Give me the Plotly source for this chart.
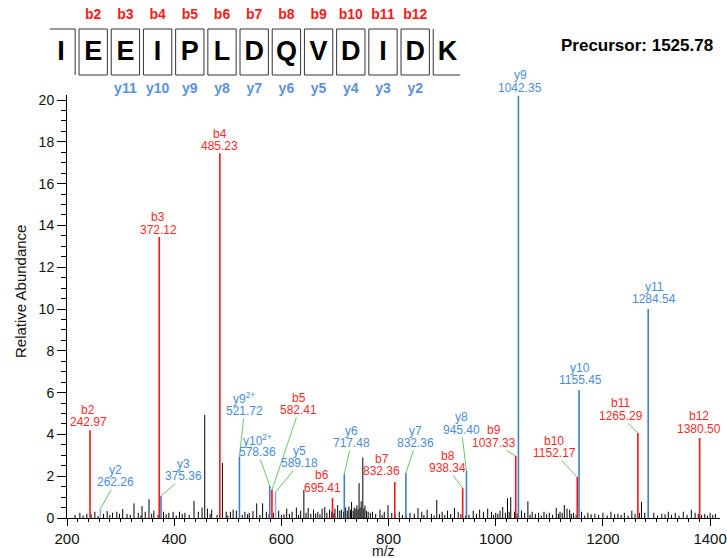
import plotly.graph_objects as go

FONT = "Liberation Sans, Arial, sans-serif"

# ---------------- data ----------------
residues = list("IEEIPLDQVDIDK")
b_seq_labels = ["b2", "b3", "b4", "b5", "b6", "b7", "b8", "b9", "b10", "b11", "b12"]
b_seq_index = [1, 2, 3, 4, 5, 6, 7, 8, 9, 10, 11]
y_seq_labels = ["y11", "y10", "y9", "y8", "y7", "y6", "y5", "y4", "y3", "y2"]
y_seq_index = [2, 3, 4, 5, 6, 7, 8, 9, 10, 11]
precursor = "Precursor: 1525.78"

ion_names = ["b2", "y2", "b3", "y3", "b4", "y9<sup>2+</sup>", "y10<sup>2+</sup>", "b5", "y5",
             "b6", "y6", "b7", "y7", "b8", "y8", "b9", "y9", "b10", "y10", "b11", "y11", "b12"]
ion_mz = [242.97, 262.26, 372.12, 375.36, 485.23, 521.72, 578.36, 582.41, 589.18,
          695.41, 717.48, 811.6, 832.36, 938.34, 945.40, 1037.33, 1042.35, 1152.17,
          1155.45, 1265.29, 1284.54, 1380.50]
ion_label = ["242.97", "262.26", "372.12", "375.36", "485.23", "521.72", "578.36", "582.41",
             "589.18", "695.41", "717.48", "832.36", "832.36", "938.34", "945.40", "1037.33",
             "1042.35", "1152.17", "1155.45", "1265.29", "1284.54", "1380.50"]
ion_intensity = [4.2, 0.43, 13.45, 1.05, 17.45, 2.92, 1.53, 1.34, 1.24, 0.96, 2.1, 1.72,
                 2.15, 1.43, 2.25, 2.97, 20.2, 1.96, 6.12, 4.07, 10.0, 3.83]
ion_type = ["b", "y", "b", "y", "b", "y", "y", "b", "y", "b", "y", "b", "y", "b", "y",
            "b", "y", "b", "y", "b", "y", "b"]

noise_mz = [224, 237, 252, 268, 275, 285, 293, 304, 312, 325, 333, 340, 346, 353, 362, 380,
            390, 398, 410, 420, 437, 445, 452, 457, 462, 470, 490, 497, 505, 510, 516, 532,
            540, 547, 554, 565, 572, 595, 610, 620, 628, 636, 642, 650, 660, 668, 676, 681,
            690, 700, 705, 712, 720, 726, 731, 736, 741, 745, 749, 752, 756, 762, 770, 784,
            792, 799, 806, 820, 840, 855, 862, 872, 890, 900, 910, 923, 930, 958, 970, 977,
            985, 992, 1000, 1008, 1013, 1022, 1028, 1035, 1048, 1054, 1060, 1068, 1080, 1090,
            1100, 1113, 1120, 1128, 1133, 1138, 1145, 1160, 1172, 1185, 1200, 1215, 1228,
            1240, 1254, 1272, 1278, 1295, 1310, 1322, 1335, 1350, 1365, 1372, 1390, 1400, 1410]
noise_int = [0.25, 0.2, 0.3, 0.2, 0.33, 0.25, 0.3, 0.43, 0.2, 0.7, 0.25, 0.57, 0.3, 0.9, 0.35, 0.3,
             0.25, 0.3, 0.3, 0.25, 0.82, 0.3, 0.5, 4.93, 0.45, 0.4, 2.63, 0.3, 0.3, 0.4, 0.35, 0.3,
             0.25, 0.33, 0.7, 0.7, 0.3, 0.35, 0.45, 0.3, 0.5, 0.35, 1.34, 0.48, 0.4, 0.3, 0.45, 0.53,
             0.4, 0.45, 0.62, 0.4, 0.5, 0.55, 0.77, 0.5, 0.6, 1.67, 0.8, 2.9, 0.6, 0.3, 0.3, 0.4,
             0.3, 0.62, 0.25, 0.3, 0.25, 0.48, 0.3, 0.4, 0.86, 0.3, 0.35, 0.48, 0.3, 0.35, 0.4, 0.3,
             0.45, 0.3, 0.25, 0.35, 0.53, 0.95, 1.0, 0.3, 0.35, 0.25, 0.8, 0.3, 0.25, 0.3,
             0.25, 0.48, 0.3, 0.62, 0.45, 0.4, 0.25, 0.3, 0.25, 0.2, 0.25, 0.3, 0.2,
             0.25, 0.35, 0.77, 0.25, 0.25, 0.2, 0.3, 0.25, 0.3, 0.4, 0.25, 0.2, 0.25, 0.2]
# low-level baseline noise
base_mz = [215, 230, 245, 258, 280, 298, 318, 338, 358, 370, 385, 404, 415, 428, 467, 480,
           500, 522, 527, 537, 560, 577, 585, 600, 605, 615, 632, 646, 655, 664, 672, 685,
           694, 698, 709, 716, 723, 729, 734, 739, 743, 747, 754, 759, 766, 776, 788, 812,
           826, 833, 848, 866, 880, 885, 895, 905, 916, 935, 944, 950, 964, 996, 1004, 1018,
           1025, 1040, 1064, 1074, 1085, 1095, 1106, 1117, 1124, 1141, 1150, 1166, 1178,
           1192, 1208, 1222, 1234, 1247, 1260, 1268, 1285, 1302, 1316, 1328, 1342, 1357,
           1378, 1384, 1395, 1405]
base_int = [0.15, 0.12, 0.18, 0.1, 0.15, 0.2, 0.15, 0.12, 0.2, 0.15, 0.18, 0.12, 0.2, 0.15,
            0.2, 0.15, 0.12, 0.2, 0.15, 0.18, 0.15, 0.2, 0.25, 0.15, 0.18, 0.2, 0.15, 0.25,
            0.2, 0.22, 0.18, 0.25, 0.3, 0.22, 0.35, 0.3, 0.35, 0.4, 0.35, 0.45, 0.4, 0.5,
            0.45, 0.35, 0.25, 0.2, 0.15, 0.18, 0.15, 0.12, 0.2, 0.15, 0.2, 0.12, 0.18, 0.15,
            0.2, 0.18, 0.12, 0.15, 0.2, 0.15, 0.2, 0.25, 0.3, 0.2, 0.15, 0.2, 0.12, 0.18,
            0.15, 0.2, 0.25, 0.2, 0.15, 0.12, 0.18, 0.15, 0.12, 0.18, 0.15, 0.12, 0.2, 0.25,
            0.15, 0.12, 0.18, 0.15, 0.12, 0.15, 0.2, 0.15, 0.12, 0.15]

# ---------------- styles ----------------
B_LINE, Y_LINE, Y_LIGHT = "#ff1414", "#3f7fcf", "#8fb2e2"
B_TEXT, Y_TEXT = "#ff2b2b", "#4a8ddc"
LEADER = "#66c966"
# label offsets in pixels (value line centre relative to peak top) and leader flags
lab_ax = [-2, 15, -1, 23, 0, 5, -12, 27, 24, -10, 7, -13, 10, -15, -5, -22, 2, -23, 1, -17, 6, -1]
lab_ay = [-8, -27, -7, -20, -7, -46, -34, -80, -29, -10, -31, -11, -30, -20, -41, -13, -8, -24, -10, -17, -10, -9]
leader = [0, 1, 0, 1, 0, 1, 1, 1, 1, 0, 1, 0, 1, 1, 1, 1, 0, 1, 0, 1, 0, 0]
light = [0, 1, 0, 0, 0, 0, 0, 0, 1, 0, 0, 0, 0, 0, 0, 0, 0, 0, 0, 0, 0, 0]

fig = go.Figure()

# noise sticks
nx, ny = [], []
for m, v in zip(noise_mz + base_mz, noise_int + base_int):
    nx += [m, m, None]
    ny += [0, v, None]
fig.add_trace(go.Scatter(x=nx, y=ny, mode="lines", line=dict(color="black", width=1),
                         hoverinfo="skip"))

annotations = []
for i, (nm, m, v, t, lab) in enumerate(zip(ion_names, ion_mz, ion_intensity, ion_type, ion_label)):
    if t == "b":
        lc, tc = B_LINE, B_TEXT
    else:
        lc, tc = (Y_LIGHT if light[i] else Y_LINE), Y_TEXT
    fig.add_trace(go.Scatter(x=[m, m], y=[0, v], mode="lines",
                             line=dict(color=lc, width=1.6), hoverinfo="skip"))
    annotations.append(dict(x=m, y=v, xref="x", yref="y", text=lab, showarrow=True,
                            ax=lab_ax[i], ay=lab_ay[i], arrowhead=0, arrowwidth=1,
                            arrowcolor=LEADER if leader[i] else "rgba(0,0,0,0)",
                            standoff=0, borderpad=0,
                            font=dict(family=FONT, size=12, color=tc)))
    annotations.append(dict(x=m, y=v, xref="x", yref="y", text=nm, showarrow=False,
                            xshift=lab_ax[i], yshift=-(lab_ay[i] - 12.5),
                            font=dict(family=FONT, size=12, color=tc)))

# ---------------- sequence diagram (x2/y2) ----------------
TOP, BOT, MID = 29, 75, 53
n = len(residues)
for j in range(n - 1):
    start = -0.35 if j == 0 else j - 0.44
    fig.add_trace(go.Scatter(x=[start, j + 0.44, j + 0.44], y=[TOP, TOP, BOT],
                             xaxis="x2", yaxis="y2", mode="lines",
                             line=dict(color="#333333", width=1), hoverinfo="skip"))
    end = n - 1 + 0.4 if j == n - 2 else j + 1.44
    fig.add_trace(go.Scatter(x=[j + 0.56, j + 0.56, end], y=[TOP, BOT, BOT],
                             xaxis="x2", yaxis="y2", mode="lines",
                             line=dict(color="#333333", width=1), hoverinfo="skip"))

fig.add_trace(go.Scatter(x=list(range(n)), y=[MID] * n, text=residues, mode="text",
                         xaxis="x2", yaxis="y2", cliponaxis=False,
                         textfont=dict(family=FONT, size=27, color="black", weight="bold"),
                         hoverinfo="skip"))
fig.add_trace(go.Scatter(x=b_seq_index, y=[15] * len(b_seq_index), text=b_seq_labels,
                         mode="text", xaxis="x2", yaxis="y2", cliponaxis=False,
                         textfont=dict(family=FONT, size=14, color="#ff1a1a", weight="bold"),
                         hoverinfo="skip"))
fig.add_trace(go.Scatter(x=y_seq_index, y=[89] * len(y_seq_index), text=y_seq_labels,
                         mode="text", xaxis="x2", yaxis="y2", cliponaxis=False,
                         textfont=dict(family=FONT, size=14, color="#5b92d8", weight="bold"),
                         hoverinfo="skip"))

annotations.append(dict(x=715 / 727, y=1 - 45 / 518, xref="paper", yref="paper",
                        xanchor="right", yanchor="middle", showarrow=False,
                        text="<b>" + precursor + "</b>",
                        font=dict(family=FONT, size=17, color="black")))
annotations.append(dict(x=20 / 727, y=1 - 292 / 518, xref="paper", yref="paper",
                        xanchor="center", yanchor="middle",
                        textangle=-90, showarrow=False, text="Relative Abundance",
                        font=dict(family=FONT, size=15, color="#111111")))
annotations.append(dict(x=383 / 727, y=(518 - 551) / 518, xref="paper", yref="paper",
                        xanchor="center", yanchor="middle",
                        showarrow=False, text="m/z",
                        font=dict(family=FONT, size=14, color="#111111")))

PX = 32.2
fig.update_layout(
    width=727, height=558,
    margin=dict(l=0, r=0, t=0, b=40, pad=0, autoexpand=False),
    plot_bgcolor="white", paper_bgcolor="white",
    showlegend=False,
    font=dict(family=FONT, color="#111111"),
    annotations=annotations,
    xaxis=dict(domain=[67 / 727, 720 / 727], range=[200, 1418.5], tick0=200, dtick=200,
               ticks="outside", ticklen=7, tickcolor="black", showline=True,
               linecolor="black", linewidth=1, showgrid=False, zeroline=False,
               automargin=False,
               tickfont=dict(family=FONT, size=15, color="#111111"),
               minor=dict(dtick=20, ticks="outside", ticklen=3, tickcolor="black")),
    yaxis=dict(domain=[0, 423 / 518], range=[0, 20.24], tick0=0, dtick=2,
               ticks="outside", ticklen=9, tickcolor="black", showline=True,
               linecolor="black", linewidth=1, showgrid=False, zeroline=False,
               automargin=False,
               tickfont=dict(family=FONT, size=14, color="#111111"),
               minor=dict(dtick=0.5, ticks="outside", ticklen=5, tickcolor="black")),
    xaxis2=dict(domain=[0, 1], range=[-61 / PX, (727 - 61) / PX], visible=False,
                anchor="y2", fixedrange=True, automargin=False),
    yaxis2=dict(domain=[423 / 518, 1], range=[95, 0], visible=False,
                anchor="x2", fixedrange=True, automargin=False),
)

fig.write_html("out.html", config={"displayModeBar": False},
               post_script="document.body.style.margin='0';document.body.style.overflow='hidden';")
